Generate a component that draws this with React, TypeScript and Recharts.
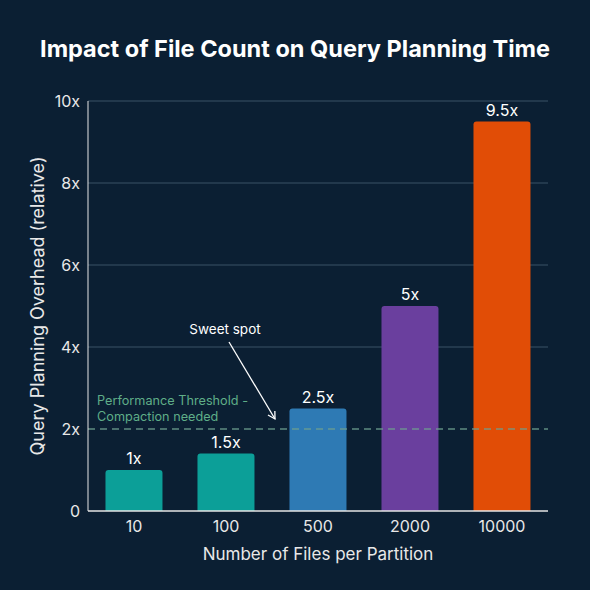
import React from 'react';
import {
  BarChart,
  Bar,
  XAxis,
  YAxis,
  CartesianGrid,
  ReferenceLine,
  LabelList,
  Cell,
} from 'recharts';

const fileCounts = ['10', '100', '500', '2000', '10000'];
const overhead = [1, 1.4, 2.5, 5, 9.5];
const overheadLabels = ['1x', '1.5x', '2.5x', '5x', '9.5x'];
const barColors = ['#0c9f98', '#0c9f98', '#2e7ab4', '#6a3f9e', '#e14d06'];
const yTicks = [0, 2, 4, 6, 8, 10];
const threshold = 2;

const FONT = 'Inter, "Noto Sans", sans-serif';
const BG = '#0b1f33';
const TEXT = '#e8e8e8';

const data = fileCounts.map((name, i) => ({
  name,
  value: overhead[i],
  label: overheadLabels[i],
}));

function ThresholdLabel(props: any) {
  const { viewBox } = props;
  const x = viewBox.x + 9;
  const y = viewBox.y;
  return (
    <text x={x} y={y - 24} fill="#5fae88" fontSize={12.7} fontFamily={FONT}>
      <tspan x={x} dy={0}>Performance Threshold -</tspan>
      <tspan x={x} dy={15.5}>Compaction needed</tspan>
    </text>
  );
}

export default function App() {
  return (
    <div
      style={{
        position: 'fixed',
        left: 0,
        top: 0,
        width: 590,
        height: 590,
        background: BG,
        fontFamily: FONT,
      }}
    >
      <div
        style={{
          position: 'absolute',
          top: 34,
          width: 590,
          textAlign: 'center',
          color: '#ffffff',
          fontSize: 23.5,
          fontWeight: 700,
        }}
      >
        Impact of File Count on Query Planning Time
      </div>
      <BarChart
        width={590}
        height={590}
        data={data}
        margin={{ top: 101, right: 42, bottom: 19, left: 0 }}
        barCategoryGap="19%"
      >
        <CartesianGrid
          vertical={false}
          horizontalValues={[4, 6, 8, 10]}
          stroke="#3b5266"
          strokeWidth={1}
        />
        <XAxis
          dataKey="name"
          height={60}
          tickLine={false}
          axisLine={{ stroke: '#e6e6e6', strokeWidth: 1.5 }}
          tick={{ fill: TEXT, fontSize: 16, fontFamily: FONT }}
          tickMargin={4}
          label={{
            value: 'Number of Files per Partition',
            position: 'insideBottom',
            offset: 11,
            fill: TEXT,
            fontSize: 17,
            fontFamily: FONT,
          }}
        />
        <YAxis
          width={88}
          domain={[0, 10]}
          ticks={yTicks}
          tickLine={false}
          axisLine={{ stroke: '#e6e6e6', strokeWidth: 1 }}
          tick={{ fill: TEXT, fontSize: 16, fontFamily: FONT }}
          tickFormatter={(v: number) => (v === 0 ? '0' : `${v}x`)}
          label={{
            value: 'Query Planning Overhead (relative)',
            angle: -90,
            position: 'center',
            dx: -6,
            fill: TEXT,
            fontSize: 18,
            fontFamily: FONT,
          }}
        />
        <Bar dataKey="value" radius={[3, 3, 0, 0]} isAnimationActive={false}>
          {data.map((d, i) => (
            <Cell key={d.name} fill={barColors[i]} />
          ))}
          <LabelList
            dataKey="label"
            position="top"
            offset={6}
            fill="#ffffff"
            fontSize={16}
            fontFamily={FONT}
          />
        </Bar>
        <ReferenceLine
          y={threshold}
          stroke="#6f9e8e"
          strokeDasharray="7 5"
          strokeWidth={1.5}
          strokeOpacity={0.85}
          label={<ThresholdLabel />}
        />
      </BarChart>
      <svg
        width={590}
        height={590}
        style={{ position: 'absolute', left: 0, top: 0, pointerEvents: 'none' }}
      >
        <defs>
          <marker
            id="arrow"
            markerWidth="10"
            markerHeight="10"
            refX="8"
            refY="5"
            orient="auto"
            markerUnits="userSpaceOnUse"
          >
            <path d="M1,1 L8,5 L1,9" fill="none" stroke="#ffffff" strokeWidth={1.3} />
          </marker>
        </defs>
        <text
          x={225}
          y={334}
          textAnchor="middle"
          fill="#ffffff"
          fontSize={13.5}
          fontFamily={FONT}
        >
          Sweet spot
        </text>
        <line
          x1={229}
          y1={342}
          x2={275}
          y2={419}
          stroke="#ffffff"
          strokeWidth={1.3}
          markerEnd="url(#arrow)"
        />
      </svg>
    </div>
  );
}
